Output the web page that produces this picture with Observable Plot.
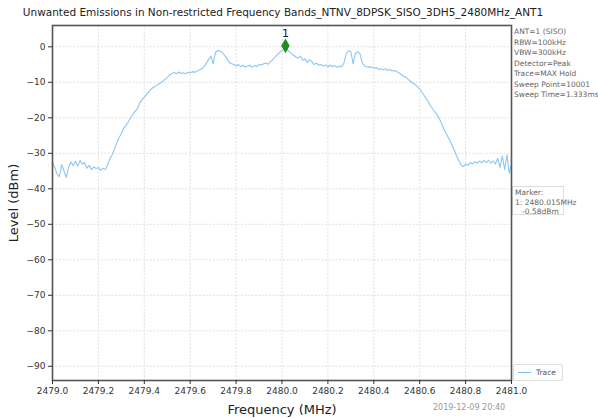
<!DOCTYPE html>
<html>
<head>
<meta charset="utf-8">
<script src="https://cdn.jsdelivr.net/npm/d3@7"></script>
<script src="https://cdn.jsdelivr.net/npm/@observablehq/plot@0.6"></script>
<style>
  html, body { margin: 0; padding: 0; background: #fff; }
  #wrap { position: relative; width: 598px; height: 418px; overflow: hidden; font-family: "DejaVu Sans", sans-serif; }
  #title { position: absolute; left: 0; width: 566px; top: 6px; text-align: center; font-size: 10.5px; color: #222; white-space: nowrap; }
  #info { position: absolute; left: 514px; top: 27px; font-size: 7.5px; line-height: 10.5px; color: #666; white-space: pre; }
  #markerBox { position: absolute; left: 512px; top: 186px; width: 52px; height: 29px; border: 1px solid #ddd; font-size: 7.5px; line-height: 9.5px; color: #666; white-space: pre; padding: 1px 0 0 2px; box-sizing: border-box; }
  #legend { position: absolute; left: 513px; top: 364px; width: 50px; height: 17px; border: 1px solid #ddd; border-radius: 2px; font-size: 7.5px; color: #555; box-sizing: border-box; }
  #legend .sw { position: absolute; left: 4px; top: 7px; width: 13px; height: 0; border-top: 1.5px solid #7dbcf0; }
  #legend .lb { position: absolute; left: 22px; top: 3px; }
  #stamp { position: absolute; left: 433px; top: 403px; font-size: 8px; color: #999; white-space: nowrap; }
  #wrap svg { position: absolute; left: 0; top: 0; }
  svg [aria-label="x-axis label"] text, svg [aria-label="y-axis label"] text { font-size: 13px; fill: #222; }
</style>
</head>
<body>
<div id="wrap">
  <div id="title"></div>
  <div id="info"></div>
  <div id="markerBox"></div>
  <div id="legend"><div class="sw"></div><div class="lb"></div></div>
  <div id="stamp"></div>
</div>
<script>
// ---- data ----
const chartTitle = "Unwanted Emissions in Non-restricted Frequency Bands_NTNV_8DPSK_SISO_3DH5_2480MHz_ANT1";
const infoLines = ["ANT=1 (SISO)", "RBW=100kHz", "VBW=300kHz", "Detector=Peak", "Trace=MAX Hold", "Sweep Point=10001", "Sweep Time=1.333ms"];
const markerLines = ["Marker:", "1: 2480.015MHz", "   -0.58dBm"];
const seriesName = "Trace";
const timestamp = "2019-12-09 20:40";
const xLabel = "Frequency (MHz)";
const yLabel = "Level (dBm)";
const xTicks = [2479.0, 2479.2, 2479.4, 2479.6, 2479.8, 2480.0, 2480.2, 2480.4, 2480.6, 2480.8, 2481.0];
const yTicks = [0, -10, -20, -30, -40, -50, -60, -70, -80, -90];
const freqStart = 2479.0;   // MHz, sweep start
const freqStep = 0.01;      // MHz between plotted samples
const levels = [
  -32.5, -34.0, -35.8, -36.6, -33.2, -35.0, -36.8, -34.0, -32.4, -33.5,
  -32.2, -33.6, -32.0, -33.0, -32.6, -34.2, -33.4, -34.6, -33.8, -34.3,
  -34.0, -34.8, -34.2, -34.6, -33.2, -31.5, -30.4, -28.8, -27.0, -25.6,
  -24.4, -23.0, -22.2, -21.2, -20.0, -19.0, -18.2, -17.4, -15.8, -14.9,
  -14.2, -13.4, -12.6, -11.9, -11.4, -11.0, -10.6, -10.2, -9.8, -9.2,
  -8.6, -7.9, -7.6, -7.2, -7.6, -7.1, -7.5, -7.3, -7.6, -7.2,
  -7.3, -7.0, -7.2, -6.8, -6.5, -6.2, -5.6, -4.6, -3.6, -2.6,
  -4.8, -1.6, -1.0, -1.2, -1.6, -2.4, -3.4, -4.4, -4.8, -5.0,
  -5.4, -5.0, -5.6, -5.2, -5.7, -5.4, -5.2, -5.8, -5.3, -5.6,
  -5.0, -5.1, -4.8, -4.6, -4.9, -4.2, -3.6, -2.8, -2.2, -1.6,
  -1.0, -0.6, -0.7, -1.2, -1.8, -2.4, -2.8, -3.2, -2.6, -3.8,
  -3.4, -4.4, -3.6, -4.2, -5.0, -4.6, -5.2, -5.0, -5.4, -5.1,
  -5.6, -5.2, -5.6, -5.3, -5.8, -5.4, -5.6, -4.6, -2.0, -1.1,
  -1.4, -4.8, -1.8, -1.4, -2.0, -4.6, -5.4, -5.6, -5.8, -5.6,
  -6.0, -5.9, -6.3, -6.1, -6.5, -6.2, -6.6, -6.4, -6.8, -6.7,
  -7.0, -7.4, -7.8, -8.3, -8.6, -9.2, -9.7, -10.2, -10.6, -11.2,
  -11.9, -12.8, -13.8, -14.8, -15.8, -16.9, -17.8, -18.6, -19.6, -20.8,
  -22.4, -23.8, -25.0, -26.2, -27.6, -29.0, -30.6, -32.0, -33.2, -33.8,
  -33.0, -33.4, -32.6, -33.0, -32.4, -32.8, -32.2, -32.7, -32.0, -32.6,
  -31.9, -32.8, -32.1, -33.0, -31.4, -34.0, -30.8, -34.6, -30.4, -35.6,
  -33.0
];
const markerFreq = [2480.015];
const markerLevel = [-0.58];
const markerName = ["1"];

// ---- build ----
const trace = levels.map((v, i) => ({f: freqStart + i * freqStep, level: v}));
const markers = markerFreq.map((f, i) => ({f, level: markerLevel[i], name: markerName[i]}));

document.getElementById("title").textContent = chartTitle;
document.getElementById("info").textContent = infoLines.join("\n");
document.getElementById("markerBox").textContent = markerLines.join("\n");
document.querySelector("#legend .lb").textContent = seriesName;
document.getElementById("stamp").textContent = timestamp;

const traceColor = "#8cc6f2";

const chart = Plot.plot({
  width: 598,
  height: 418,
  marginTop: 25,
  marginLeft: 52,
  marginRight: 87,
  marginBottom: 38,
  style: {fontFamily: "DejaVu Sans, sans-serif", fontSize: "9px", color: "#333", background: "transparent"},
  x: {domain: [2479, 2481]},
  y: {domain: [-94, 6]},
  marks: [
    Plot.gridX(xTicks, {stroke: "#e0e0e0", strokeOpacity: 1, strokeDasharray: "2,1.5"}),
    Plot.gridY(yTicks, {stroke: "#e0e0e0", strokeOpacity: 1, strokeDasharray: "2,1.5"}),
    Plot.line(trace, {x: "f", y: "level", stroke: traceColor, strokeWidth: 1.1}),
    Plot.dot(markers, {x: "f", y: "level", symbol: "diamond", fill: "#1f8f1f", stroke: "#1f8f1f", r: 3.5, dy: -3}),
    Plot.text(markers, {x: "f", y: "level", text: "name", dy: -15, fontSize: 11, fill: "#222"}),
    Plot.frame({stroke: "#555", strokeWidth: 1.6}),
    Plot.axisX(xTicks, {tickFormat: d => d.toFixed(1), tickSize: 4, tickPadding: 3, label: xLabel, labelAnchor: "center", labelArrow: "none", labelOffset: 33, fill: "#333"}),
    Plot.axisY(yTicks, {tickFormat: d => d === 0 ? "0" : "\u2212" + Math.abs(d), tickSize: 4, tickPadding: 3, label: yLabel, labelAnchor: "center", labelArrow: "none", labelOffset: 44, fill: "#333"})
  ]
});
document.getElementById("wrap").appendChild(chart);
</script>
</body>
</html>
